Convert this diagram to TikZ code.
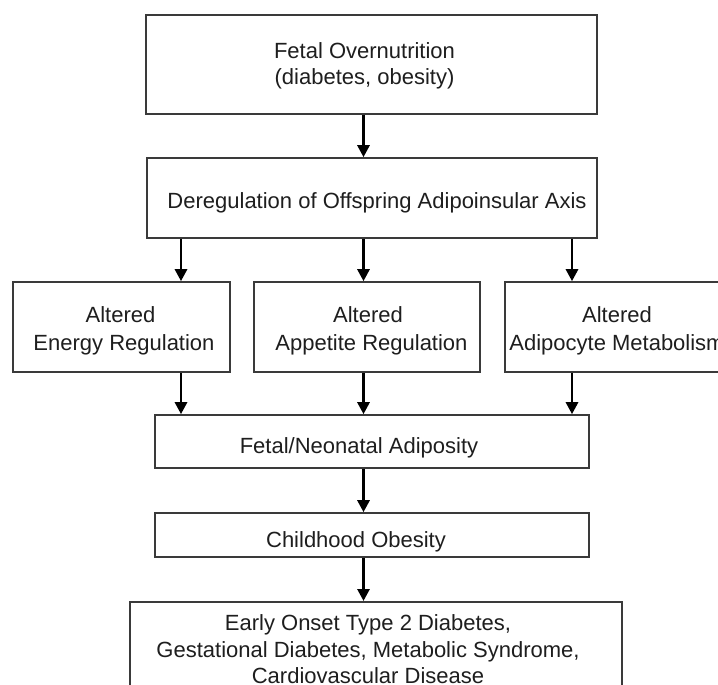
\documentclass[tikz,border=0pt]{standalone}
\usepackage{fontspec}
\setmainfont{Liberation Sans}
\usetikzlibrary{arrows.meta}
\definecolor{boxline}{HTML}{3A3A3A}
\definecolor{txt}{HTML}{1E1E1E}
\begin{document}
\begin{tikzpicture}[x=1pt,y=-1pt,
  box/.style={draw=boxline, line width=1.6pt, fill=white, inner sep=0pt},
  lbl/.style={align=center, text=txt, inner sep=0pt, font=\fontsize{22}{27}\selectfont},
  arr/.style={line width=2.8pt, draw=black, -{Triangle[width=12pt,length=12pt]}}]
\useasboundingbox (0,0) rectangle (718,685);
\clip (0,0) rectangle (718,685);
\fill[white] (0,0) rectangle (718,685);

\node[box, minimum width=451pt, minimum height=99pt,
  label={[lbl, xshift=-7pt, yshift=-1pt, font=\fontsize{22}{26}\selectfont]center:Fetal Overnutrition\\(diabetes, obesity)}] (b1) at (371.5,64.5) {};
\node[box, minimum width=450pt, minimum height=80pt,
  label={[lbl, xshift=5pt, yshift=-5pt]center:Deregulation of Offspring Adipoinsular Axis}] (b2) at (372,198) {};
\node[box, minimum width=217pt, minimum height=90pt,
  label={[lbl, xshift=2.5pt, yshift=-4pt, font=\fontsize{22}{28}\selectfont]center:Altered\hspace*{7pt}\\Energy Regulation}] (ba) at (121.5,327) {};
\node[box, minimum width=226pt, minimum height=90pt,
  label={[lbl, xshift=4.5pt, yshift=-4pt, font=\fontsize{22}{28}\selectfont]center:Altered\hspace*{7pt}\\Appetite Regulation}] (bb) at (367,327) {};
\node[box, minimum width=226pt, minimum height=90pt,
  label={[lbl, xshift=-1pt, yshift=-4pt, font=\fontsize{22}{28}\selectfont]center:Altered\\Adipocyte Metabolism}] (bc) at (618,327) {};
\node[box, minimum width=434pt, minimum height=53pt,
  label={[lbl, xshift=-13pt, yshift=-6.5pt]center:Fetal/Neonatal Adiposity}] (bf) at (372,441.5) {};
\node[box, minimum width=434pt, minimum height=44pt,
  label={[lbl, xshift=-16pt, yshift=-7pt]center:Childhood Obesity}] (bh) at (372,535) {};
\node[box, minimum width=492pt, minimum height=119pt, anchor=north,
  label={[lbl, xshift=-8pt, yshift=12pt, font=\fontsize{22}{26.7}\selectfont]center:Early Onset Type 2 Diabetes,\\Gestational Diabetes, Metabolic Syndrome,\\Cardiovascular Disease}] (bl) at (376,601) {};

\coordinate (xl) at (181,0);
\coordinate (xm) at (363.5,0);
\coordinate (xr) at (572,0);

\draw[arr] (b1.south -| xm) -- (b2.north -| xm);
\draw[arr] (b2.south -| xl) -- (ba.north -| xl);
\draw[arr] (b2.south -| xm) -- (bb.north -| xm);
\draw[arr] (b2.south -| xr) -- (bc.north -| xr);
\draw[arr] (ba.south -| xl) -- (bf.north -| xl);
\draw[arr] (bb.south -| xm) -- (bf.north -| xm);
\draw[arr] (bc.south -| xr) -- (bf.north -| xr);
\draw[arr] (bf.south -| xm) -- (bh.north -| xm);
\draw[arr] (bh.south -| xm) -- (bl.north -| xm);
\end{tikzpicture}
\end{document}
